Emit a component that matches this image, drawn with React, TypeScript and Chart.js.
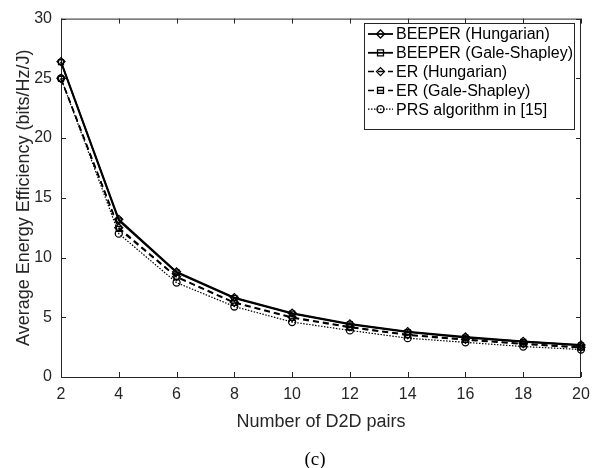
import React, { useEffect, useRef } from "react";
import { Chart, registerables } from "chart.js";

Chart.register(...registerables);

const xValues = [2, 4, 6, 8, 10, 12, 14, 16, 18, 20];
const beeperHungarian = [26.4, 13.2, 8.8, 6.65, 5.35, 4.45, 3.8, 3.35, 2.98, 2.68];
const beeperGaleShapley = [26.35, 13.1, 8.75, 6.6, 5.3, 4.4, 3.75, 3.3, 2.95, 2.65];
const erHungarian = [25.0, 12.5, 8.4, 6.25, 5.0, 4.2, 3.55, 3.15, 2.8, 2.5];
const erGaleShapley = [24.95, 12.4, 8.35, 6.2, 4.95, 4.15, 3.5, 3.1, 2.75, 2.45];
const prsAlgorithm = [25.0, 12.0, 7.9, 5.9, 4.6, 3.9, 3.25, 2.9, 2.55, 2.3];

const seriesLabels = [
  "BEEPER (Hungarian)",
  "BEEPER (Gale-Shapley)",
  "ER (Hungarian)",
  "ER (Gale-Shapley)",
  "PRS algorithm in [15]",
];
const xTitle = "Number of D2D pairs";
const yTitle = "Average Energy Efficiency (bits/Hz/J)";
const caption = "(c)";

const AXIS_COLOR = "#262626";
const FONT = "'Liberation Sans', Arial, sans-serif";

type Style = { dash: number[]; width: number; point: string; radius: number };
const styles: Style[] = [
  { dash: [], width: 1.8, point: "rectRot", radius: 4 },
  { dash: [], width: 1.8, point: "rect", radius: 3.5 },
  { dash: [6, 4], width: 1.5, point: "rectRot", radius: 4 },
  { dash: [6, 4], width: 1.5, point: "rect", radius: 3.5 },
  { dash: [1.5, 1.5], width: 1.2, point: "circle", radius: 3.5 },
];

function drawMarker(ctx: CanvasRenderingContext2D, kind: string, x: number, y: number, r: number) {
  ctx.beginPath();
  if (kind === "rectRot") {
    ctx.moveTo(x, y - r);
    ctx.lineTo(x + r, y);
    ctx.lineTo(x, y + r);
    ctx.lineTo(x - r, y);
    ctx.closePath();
  } else if (kind === "rect") {
    const s = r * 0.85;
    ctx.rect(x - s, y - s, 2 * s, 2 * s);
  } else {
    ctx.arc(x, y, r, 0, Math.PI * 2);
  }
  ctx.stroke();
}

const framePlugin = {
  id: "frame",
  beforeDatasetsDraw(chart: any) {
    const { ctx, chartArea } = chart;
    const { left, right, top, bottom } = chartArea;
    const xs = chart.scales.x;
    const ys = chart.scales.y;
    ctx.save();
    ctx.strokeStyle = AXIS_COLOR;
    ctx.lineWidth = 1;
    ctx.setLineDash([]);
    ctx.strokeRect(left + 0.5, top + 0.5, right - left - 1, bottom - top);
    const tl = 5;
    ctx.beginPath();
    xs.ticks.forEach((t: any) => {
      const px = Math.round(xs.getPixelForValue(t.value)) + 0.5;
      ctx.moveTo(px, bottom);
      ctx.lineTo(px, bottom - tl);
      ctx.moveTo(px, top);
      ctx.lineTo(px, top + tl);
    });
    ys.ticks.forEach((t: any) => {
      const py = Math.round(ys.getPixelForValue(t.value)) + 0.5;
      ctx.moveTo(left, py);
      ctx.lineTo(left + tl, py);
      ctx.moveTo(right, py);
      ctx.lineTo(right - tl, py);
    });
    ctx.stroke();
    ctx.restore();
  },
  afterDraw(chart: any) {
    const { ctx } = chart;
    ctx.save();
    // legend
    const lx = 364, ly = 23, lw = 210, lh = 106;
    ctx.fillStyle = "#ffffff";
    ctx.fillRect(lx, ly, lw, lh);
    ctx.strokeStyle = AXIS_COLOR;
    ctx.lineWidth = 1;
    ctx.setLineDash([]);
    ctx.strokeRect(lx + 0.5, ly + 0.5, lw, lh);
    ctx.font = `16px ${FONT}`;
    ctx.textBaseline = "middle";
    ctx.textAlign = "left";
    seriesLabels.forEach((lab, i) => {
      const st = styles[i];
      const cy = 34 + i * 18.8;
      ctx.strokeStyle = "#000000";
      ctx.lineWidth = st.width;
      ctx.setLineDash(st.dash);
      ctx.beginPath();
      ctx.moveTo(368, cy);
      ctx.lineTo(393, cy);
      ctx.stroke();
      ctx.setLineDash([]);
      ctx.lineWidth = 1.3;
      drawMarker(ctx, st.point, 380.5, cy, st.radius);
      ctx.fillStyle = "#000000";
      ctx.fillText(lab, 396, cy + 1);
    });

    // caption
    ctx.font = "19px 'Liberation Serif', 'Times New Roman', serif";
    ctx.textAlign = "center";
    ctx.fillStyle = "#000000";
    ctx.fillText(caption, 315, 460);
    ctx.restore();
  },
};

export default function App() {
  const canvasRef = useRef<HTMLCanvasElement | null>(null);

  useEffect(() => {
    document.body.style.margin = "0";
    const canvas = canvasRef.current;
    if (!canvas) return;
    const seriesData = [beeperHungarian, beeperGaleShapley, erHungarian, erGaleShapley, prsAlgorithm];
    const datasets = seriesData.map((vals, i) => ({
      label: seriesLabels[i],
      data: xValues.map((x, j) => ({ x, y: vals[j] })),
      borderColor: "#000000",
      backgroundColor: "rgba(0,0,0,0)",
      borderWidth: styles[i].width,
      borderDash: styles[i].dash,
      pointStyle: styles[i].point,
      pointRadius: styles[i].radius,
      pointBorderWidth: 1.3,
      pointBorderColor: "#000000",
      pointBackgroundColor: "rgba(0,0,0,0)",
      tension: 0,
      fill: false,
      clip: false,
    }));
    const chart = new Chart(canvas, {
      type: "line",
      data: { datasets },
      options: {
        animation: false,
        responsive: false,
        devicePixelRatio: 1,
        layout: { padding: { top: 15, right: 21, left: 0, bottom: 0 } },
        plugins: { legend: { display: false }, tooltip: { enabled: false } },
        scales: {
          x: {
            type: "linear",
            min: 2,
            max: 20,
            grid: { display: false, drawTicks: false },
            border: { display: false },
            ticks: {
              stepSize: 2,
              color: AXIS_COLOR,
              font: { family: FONT, size: 16 },
              padding: 8,
              maxRotation: 0,
            },
            title: {
              display: true,
              text: xTitle,
              color: AXIS_COLOR,
              font: { family: FONT, size: 18 },
              padding: { top: 0, bottom: 35 },
            },
            afterFit: (s: any) => {
              s.height = 468 - 377;
            },
          },
          y: {
            type: "linear",
            min: 0,
            max: 30,
            grid: { display: false, drawTicks: false },
            border: { display: false },
            ticks: {
              stepSize: 5,
              color: AXIS_COLOR,
              font: { family: FONT, size: 16 },
              padding: 9,
            },
            title: {
              display: true,
              text: yTitle,
              color: AXIS_COLOR,
              font: { family: FONT, size: 18 },
              padding: { top: 13, bottom: 0 },
            },
            afterFit: (s: any) => {
              s.width = 61;
            },
          },
        },
      },
      plugins: [framePlugin],
    });
    return () => chart.destroy();
  }, []);

  return (
    <div style={{ width: 602, height: 468, background: "#ffffff" }}>
      <canvas ref={canvasRef} width={602} height={468} style={{ display: "block" }} />
    </div>
  );
}
